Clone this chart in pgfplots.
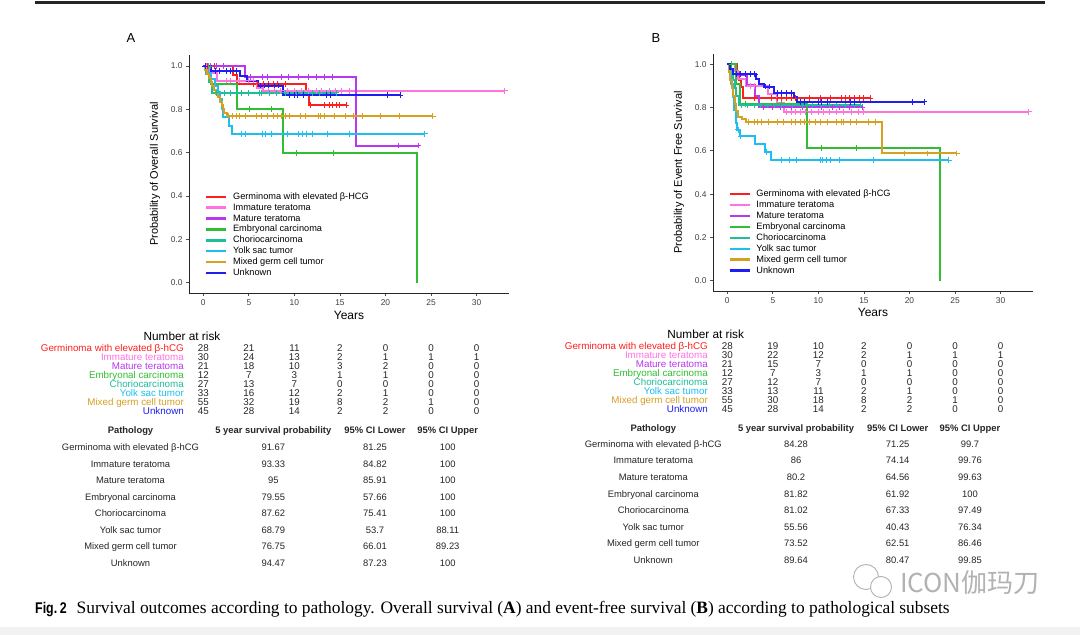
\documentclass[border=0pt]{standalone}
\usepackage{pgfplots}
\pgfplotsset{compat=1.18}
\usepackage{fontspec}
\setmainfont{Liberation Sans}
\newfontfamily\capfont{Liberation Serif}
\newfontfamily\figfont[FakeStretch=0.8]{Liberation Sans}
\newfontfamily\cjk{Noto Sans CJK SC}

\definecolor{cGerm}{RGB}{255,30,30}
\definecolor{cImm}{RGB}{255,115,225}
\definecolor{cMat}{RGB}{185,55,240}
\definecolor{cEmb}{RGB}{50,190,50}
\definecolor{cCho}{RGB}{30,190,150}
\definecolor{cYolk}{RGB}{30,190,240}
\definecolor{cMix}{RGB}{215,160,35}
\definecolor{cUnk}{RGB}{30,30,240}

\newcommand{\fs}[1]{\fontsize{#1}{#1}\selectfont}

\pgfplotsset{
  km/.style={const plot, no marks, line width=2pt},
  cens/.style={only marks, mark=+, mark size=2.9pt, mark options={line width=1pt}, forget plot},
  kmaxis/.style={
    scale only axis, width=320pt,
    xmin=-1.57, xmax=33.56,
    axis lines=left, axis line style={-, line width=0.9pt, black!85},
    xtick={0,5,...,30}, ytick={0,0.2,0.4,0.6,0.8,1},
    yticklabel={\pgfmathprintnumber[fixed,fixed zerofill,precision=1]{\tick}},
    /pgf/number format/assume math mode=true,
    tick align=outside, major tick length=3pt,
    tick style={line width=0.8pt, black!70},
    ticklabel style={font=\fs{8.4}, text=black!75},
    xlabel={Years},
    xlabel style={font=\fs{12}, at={(axis description cs:0.5,-0.0924)}, anchor=center},
    ylabel style={font=\fs{11}, at={(axis description cs:-0.106,0.5)}, anchor=center},
    legend cell align=left,
    legend image code/.code={\draw[#1, line width=2.4pt] (0pt,0pt) -- (20pt,0pt);},
    legend style={draw=none, fill=none, font=\fs{9.2}, anchor=north west,
      inner sep=0pt, outer sep=0pt, row sep=1.9pt, column sep=5.7pt,
      nodes={inner sep=0pt, text height=7pt, text depth=2pt}},
  }
}

\begin{document}
\begin{tikzpicture}[x=1pt,y=1pt]
\useasboundingbox (0,0) rectangle (1080,635);
\fill[white] (0,0) rectangle (1080,635);
\fill[black!5] (0,0) rectangle (1080,8);
\fill[black!85] (35,630.5) rectangle (1045,633.5);
\node[font=\fs{13}] at (131,597) {A};
\node[font=\fs{13}] at (656,597) {B};

% ---------------- A: overall survival
\begin{axis}[kmaxis, at={(189pt,342pt)}, anchor=south west, height=238pt,
  ymin=-0.0475, ymax=1.0508, ylabel={Probability of Overall Survival},
  legend style={at={(0.05,0.4235)}}]
\addplot[km, cGerm] coordinates {(0,1)(3.3,0.958)(3.7,0.917)(11.3,0.87)(11.6,0.82)(15.7,0.82)};
\addlegendentry{Germinoma with elevated β-HCG}
\addplot[km, cImm] coordinates {(0,1)(0.7,0.967)(1.5,0.933)(5.9,0.9)(6.6,0.886)(33.1,0.886)};
\addlegendentry{Immature teratoma}
\addplot[km, cMat] coordinates {(0,1)(4.6,0.95)(16.8,0.633)(23.6,0.633)};
\addlegendentry{Mature teratoma}
\addplot[km, cEmb] coordinates {(0,1)(0.9,0.917)(3.7,0.8)(8.8,0.6)(23.5,0)};
\addlegendentry{Embryonal carcinoma}
\addplot[km, cCho] coordinates {(0,1)(0.3,0.963)(0.6,0.926)(1.0,0.876)(14.6,0.876)};
\addlegendentry{Choriocarcinoma}
\addplot[km, cYolk] coordinates {(0,1)(0.5,0.97)(0.9,0.939)(1.3,0.909)(1.6,0.879)(1.8,0.848)(2.0,0.8)(2.2,0.763)(2.8,0.725)(3.1,0.688)(24.3,0.688)};
\addlegendentry{Yolk sac tumor}
\addplot[km, cMix] coordinates {(0,1)(0.2,0.982)(0.4,0.964)(0.6,0.945)(0.8,0.927)(1.0,0.909)(1.2,0.891)(1.4,0.873)(1.6,0.855)(1.8,0.836)(2.0,0.818)(2.2,0.8)(2.3,0.782)(2.6,0.768)(25.2,0.768)};
\addlegendentry{Mixed germ cell tumor}
\addplot[km, cUnk] coordinates {(0,1)(0.8,0.977)(4.0,0.955)(4.8,0.932)(6.0,0.91)(8.8,0.865)(21.6,0.865)};
\addlegendentry{Unknown}
% censoring marks
\addplot[cens, cGerm] coordinates {(0.5,1)(1.2,1)(2.2,1)(5.5,0.917)(6.0,0.917)(6.6,0.917)(7.2,0.917)(7.7,0.917)(8.2,0.917)(9.0,0.917)(11.8,0.82)(13.3,0.82)(13.8,0.82)(14.2,0.82)(14.6,0.82)(15.0,0.82)(15.7,0.82)};
\addplot[cens, cImm] coordinates {(0.3,1)(2.5,0.933)(3.0,0.933)(4.0,0.933)(5.0,0.933)(5.5,0.933)(7.2,0.886)(7.8,0.886)(8.5,0.886)(9.2,0.886)(10.0,0.886)(10.8,0.886)(11.5,0.886)(12.4,0.886)(13.0,0.886)(13.8,0.886)(14.5,0.886)(15.2,0.886)(16.0,0.886)(33.1,0.886)};
\addplot[cens, cMat] coordinates {(0.8,1)(1.5,1)(2.2,1)(5.2,0.95)(6.5,0.95)(7.1,0.95)(8.6,0.95)(9.4,0.95)(10.4,0.95)(11.5,0.95)(12.4,0.95)(13.3,0.95)(14.2,0.95)(21.4,0.633)(23.6,0.633)};
\addplot[cens, cEmb] coordinates {(0.6,1)(5.1,0.8)(7.5,0.8)(10.2,0.6)(14.3,0.6)};
\addplot[cens, cCho] coordinates {(1.5,0.876)(2.3,0.876)(3.0,0.876)(3.6,0.876)(4.2,0.876)(5.0,0.876)(6.2,0.876)(6.4,0.876)(7.3,0.876)(8.0,0.876)(9.0,0.876)(10.2,0.876)(11.0,0.876)(12.0,0.876)(12.8,0.876)(13.5,0.876)(14.0,0.876)(14.6,0.876)};
\addplot[cens, cYolk] coordinates {(4.2,0.688)(4.6,0.688)(6.5,0.688)(6.8,0.688)(7.5,0.688)(9.2,0.688)(10.5,0.688)(10.9,0.688)(11.3,0.688)(12.0,0.688)(13.6,0.688)(16.0,0.688)(24.3,0.688)};
\addplot[cens, cMix] coordinates {(2.8,0.768)(3.2,0.768)(3.6,0.768)(4.0,0.768)(4.6,0.768)(5.8,0.768)(6.4,0.768)(7.0,0.768)(7.7,0.768)(8.1,0.768)(8.6,0.768)(9.0,0.768)(9.5,0.768)(10.7,0.768)(11.2,0.768)(12.6,0.768)(12.9,0.768)(13.3,0.768)(14.4,0.768)(15.6,0.768)(16.5,0.768)(17.5,0.768)(19.5,0.768)(21.5,0.768)(25.2,0.768)};
\addplot[cens, cUnk] coordinates {(0.2,1)(1.3,0.977)(1.8,0.977)(2.5,0.977)(3.0,0.977)(3.6,0.977)(6.3,0.91)(6.7,0.91)(7.2,0.91)(7.8,0.91)(8.3,0.91)(9.5,0.865)(10.0,0.865)(10.3,0.865)(11.0,0.865)(13.5,0.865)(14.0,0.865)(20.2,0.865)(21.6,0.865)};
\end{axis}

% ---------------- B: event-free survival
\begin{axis}[kmaxis, at={(713pt,344pt)}, anchor=south west, height=237pt,
  ymin=-0.0476, ymax=1.0476, ylabel={Probability of Event Free Survival},
  legend style={at={(0.048,0.427)}}]
\addplot[km, cGerm] coordinates {(0,1)(1.1,0.964)(1.3,0.929)(1.5,0.893)(1.7,0.843)(15.7,0.843)};
\addlegendentry{Germinoma with elevated β-hCG}
\addplot[km, cImm] coordinates {(0,1)(0.8,0.967)(1.2,0.933)(2.0,0.9)(4.5,0.863)(5.5,0.822)(6.2,0.781)(33.1,0.781)};
\addlegendentry{Immature teratoma}
\addplot[km, cMat] coordinates {(0,1)(1.0,0.952)(2.2,0.905)(3.0,0.855)(3.5,0.802)(14.8,0.802)};
\addlegendentry{Mature teratoma}
\addplot[km, cEmb] coordinates {(0,1)(0.9,0.909)(1.4,0.818)(8.8,0.613)(23.4,0)};
\addlegendentry{Embryonal carcinoma}
\addplot[km, cCho] coordinates {(0,1)(0.4,0.963)(0.6,0.926)(0.8,0.889)(1.0,0.852)(1.3,0.81)(14.6,0.81)};
\addlegendentry{Choriocarcinoma}
\addplot[km, cYolk] coordinates {(0,1)(0.3,0.97)(0.45,0.909)(0.6,0.848)(0.75,0.788)(0.9,0.727)(1.1,0.697)(1.4,0.667)(3.0,0.63)(4.1,0.596)(4.8,0.556)(24.3,0.556)};
\addlegendentry{Yolk sac tumor}
\addplot[km, cMix] coordinates {(0,1)(0.2,0.964)(0.35,0.927)(0.5,0.891)(0.65,0.855)(0.8,0.818)(1.0,0.782)(1.2,0.755)(1.6,0.745)(2.1,0.735)(17.0,0.588)(25.2,0.588)};
\addlegendentry{Mixed germ cell tumor}
\addplot[km, cUnk] coordinates {(0,1)(0.3,0.978)(0.6,0.955)(3.1,0.932)(3.5,0.909)(4.0,0.897)(5.1,0.869)(7.3,0.848)(7.6,0.826)(21.6,0.826)};
\addlegendentry{Unknown}
% censoring marks
\addplot[cens, cGerm] coordinates {(3.0,0.843)(4.8,0.843)(5.5,0.843)(6.0,0.843)(6.5,0.843)(7.0,0.843)(7.5,0.843)(9.0,0.843)(10.2,0.843)(11.3,0.843)(12.5,0.843)(13.0,0.843)(13.4,0.843)(14.0,0.843)(14.5,0.843)(15.0,0.843)(15.7,0.843)};
\addplot[cens, cImm] coordinates {(2.5,0.9)(3.0,0.9)(6.5,0.781)(7.0,0.781)(7.5,0.781)(8.0,0.781)(8.6,0.781)(9.2,0.781)(10.0,0.781)(10.6,0.781)(11.2,0.781)(12.0,0.781)(12.8,0.781)(13.6,0.781)(14.4,0.781)(15.0,0.781)(33.1,0.781)};
\addplot[cens, cMat] coordinates {(4.0,0.802)(5.0,0.802)(5.8,0.802)(7.0,0.802)(8.3,0.802)(10.3,0.802)(11.5,0.802)(12.3,0.802)(13.4,0.802)(14.8,0.802)};
\addplot[cens, cEmb] coordinates {(0.5,1)(2.0,0.818)(6.0,0.818)(8.0,0.818)(10.3,0.613)(14.2,0.613)};
\addplot[cens, cCho] coordinates {(1.6,0.81)(2.2,0.81)(3.0,0.81)(3.6,0.81)(4.4,0.81)(5.2,0.81)(6.0,0.81)(7.2,0.81)(8.2,0.81)(9.4,0.81)(10.3,0.81)(11.2,0.81)(12.0,0.81)(13.0,0.81)(14.0,0.81)(14.6,0.81)};
\addplot[cens, cYolk] coordinates {(1.2,0.697)(1.5,0.667)(4.3,0.596)(6.0,0.556)(6.8,0.556)(7.6,0.556)(10.2,0.556)(10.5,0.556)(10.9,0.556)(11.3,0.556)(12.3,0.556)(16.0,0.556)(24.3,0.556)};
\addplot[cens, cMix] coordinates {(2.3,0.735)(3.0,0.735)(3.3,0.735)(3.7,0.735)(4.5,0.735)(5.5,0.735)(6.2,0.735)(7.0,0.735)(7.5,0.735)(8.0,0.735)(8.5,0.735)(9.0,0.735)(9.7,0.735)(10.2,0.735)(11.0,0.735)(12.0,0.735)(12.5,0.735)(12.8,0.735)(13.5,0.735)(14.2,0.735)(15.5,0.735)(16.3,0.735)(19.5,0.588)(22.0,0.588)(25.2,0.588)};
\addplot[cens, cUnk] coordinates {(1.0,0.955)(1.5,0.955)(2.0,0.955)(2.5,0.955)(3.0,0.955)(4.2,0.897)(4.6,0.897)(5.5,0.869)(6.0,0.869)(6.5,0.869)(7.0,0.869)(8.0,0.826)(8.5,0.826)(10.0,0.826)(10.3,0.826)(11.0,0.826)(13.5,0.826)(14.0,0.826)(20.3,0.826)(21.6,0.826)};
\end{axis}

% ---------------- number at risk tables
\node[font=\fs{11.8}] at (182,{635-336}) {Number at risk};
\node[font=\fs{11.8}] at (705.7,{635-334}) {Number at risk};
\tikzset{rk/.style={font=\fs{9.8}, inner sep=0pt, text height=7pt, text depth=0pt}}
\foreach \nm/\cl/\nA/\nB [count=\i from 0] in {
  Germinoma with elevated β-hCG/cGerm/{28,21,11,2,0,0,0}/{28,19,10,2,0,0,0},
  Immature teratoma/cImm/{30,24,13,2,1,1,1}/{30,22,12,2,1,1,1},
  Mature teratoma/cMat/{21,18,10,3,2,0,0}/{21,15,7,0,0,0,0},
  Embryonal carcinoma/cEmb/{12,7,3,1,1,0,0}/{12,7,3,1,1,0,0},
  Choriocarcinoma/cCho/{27,13,7,0,0,0,0}/{27,12,7,0,0,0,0},
  Yolk sac tumor/cYolk/{33,16,12,2,1,0,0}/{33,13,11,2,1,0,0},
  Mixed germ cell tumor/cMix/{55,32,19,8,2,1,0}/{55,30,18,8,2,1,0},
  Unknown/cUnk/{45,28,14,2,2,0,0}/{45,28,14,2,2,0,0}} {
  \node[rk, anchor=east, text=\cl] at (184,{635-348.3-8.9*\i}) {\nm};
  \node[rk, anchor=east, text=\cl] at (708,{635-346-9.05*\i}) {\nm};
  \foreach \v [count=\k from 0] in \nA
    \node[rk, text=black!85] at ({203.3+45.55*\k},{635-348.3-8.9*\i}) {\v};
  \foreach \v [count=\k from 0] in \nB
    \node[rk, text=black!85] at ({727.3+45.55*\k},{635-346-9.05*\i}) {\v};
}

% ---------------- 5-year survival tables
\tikzset{tb/.style={font=\fs{9.4}, inner sep=0pt, text height=6.7pt, text depth=0pt, text=black!85},
         th/.style={tb, font=\fs{9.4}\bfseries}}
\node[th] at (130.5,{635-430}) {Pathology};
\node[th] at (273.3,{635-430}) {5 year survival probability};
\node[th] at (375,{635-430}) {95\% CI Lower};
\node[th] at (447.7,{635-430}) {95\% CI Upper};
\node[th] at (653.3,{635-428.3}) {Pathology};
\node[th] at (796,{635-428.3}) {5 year survival probability};
\node[th] at (897.7,{635-428.3}) {95\% CI Lower};
\node[th] at (970,{635-428.3}) {95\% CI Upper};
\foreach \nm/\a/\b/\c/\d/\e/\f [count=\i from 0] in {
  Germinoma with elevated β-hCG/91.67/81.25/100/84.28/71.25/99.7,
  Immature teratoma/93.33/84.82/100/86/74.14/99.76,
  Mature teratoma/95/85.91/100/80.2/64.56/99.63,
  Embryonal carcinoma/79.55/57.66/100/81.82/61.92/100,
  Choriocarcinoma/87.62/75.41/100/81.02/67.33/97.49,
  Yolk sac tumor/68.79/53.7/88.11/55.56/40.43/76.34,
  Mixed germ cell tumor/76.75/66.01/89.23/73.52/62.51/86.46,
  Unknown/94.47/87.23/100/89.64/80.47/99.85} {
  \node[tb] at (130.5,{635-447.3-16.49*\i}) {\nm};
  \node[tb] at (273.3,{635-447.3-16.49*\i}) {\a};
  \node[tb] at (375,{635-447.3-16.49*\i}) {\b};
  \node[tb] at (447.7,{635-447.3-16.49*\i}) {\c};
  \node[tb] at (653.3,{635-444-16.57*\i}) {\nm};
  \node[tb] at (796,{635-444-16.57*\i}) {\d};
  \node[tb] at (897.7,{635-444-16.57*\i}) {\e};
  \node[tb] at (970,{635-444-16.57*\i}) {\f};
}

% ---------------- watermark and caption
\draw[black!30, line width=0.9pt] (866,{635-577}) circle (12.5);
\draw[black!30, line width=0.9pt, fill=white] (881,{635-587}) circle (10.5);
\node[anchor=west, font=\cjk\fs{26}, text=black!30, inner sep=0pt] at (900,{635-583}) {ICON伽玛刀};
\node[anchor=base west, inner sep=0pt] at (35,{635-614})
  {{\figfont\fs{15.5}\bfseries Fig.\,2}\hspace{10pt}{\capfont\fs{17.4}Survival outcomes according to pathology. Overall survival (\textbf{A}) and event-free survival (\textbf{B}) according to pathological subsets}};
\end{tikzpicture}
\end{document}
